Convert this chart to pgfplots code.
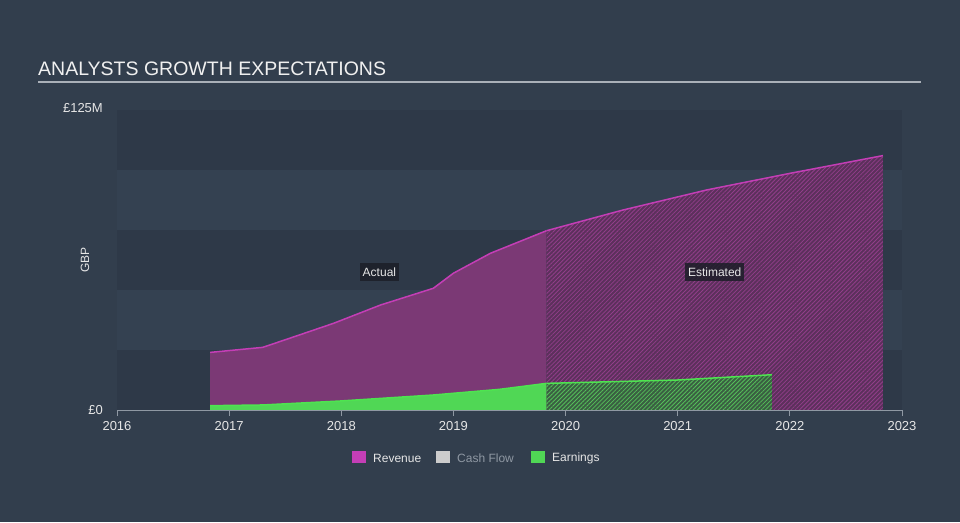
\documentclass[border=0pt]{standalone}
\usepackage{pgfplots}
\pgfplotsset{compat=1.18}
\usepackage{fontspec}
\setmainfont{Liberation Sans}
\usetikzlibrary{patterns.meta}
\definecolor{bg}{RGB}{50,62,77}
\definecolor{banddark}{RGB}{46,57,72}
\definecolor{bandlight}{RGB}{52,65,81}
\definecolor{titlecol}{RGB}{240,240,240}
\definecolor{rulecol}{RGB}{170,176,184}
\definecolor{axiscol}{RGB}{143,152,163}
\definecolor{tickcol}{RGB}{230,230,230}
\definecolor{revfill}{RGB}{123,57,117}
\definecolor{revest}{RGB}{92,48,92}
\definecolor{revhatch}{RGB}{145,62,138}
\definecolor{revline}{RGB}{196,62,182}
\definecolor{earnfill}{RGB}{80,215,85}
\definecolor{earnest}{RGB}{58,95,66}
\definecolor{earnhatch}{RGB}{85,190,90}
\definecolor{earnline}{RGB}{78,228,80}
\definecolor{cashcol}{RGB}{204,204,204}
\definecolor{boxcol}{RGB}{28,30,40}

\pgfplotstableread{
x y
2016.83 24.0
2017.30 26.1
2017.54 29.9
2017.93 36.1
2018.35 43.75
2018.82 50.7
2019.00 57.0
2019.33 65.3
2019.83 74.7
}\revact
\pgfplotstableread{
x y
2019.83 74.7
2020.51 83.3
2021.26 91.7
2022.00 98.6
2022.83 106.0
}\revestt
\pgfplotstableread{
x y
2016.83 1.8
2017.30 2.1
2017.99 3.75
2018.82 6.25
2019.41 8.6
2019.83 11.1
}\earnact
\pgfplotstableread{
x y
2019.83 11.1
2021.00 12.5
2021.84 14.7
}\earnestt

\begin{document}
\begin{tikzpicture}[x=1pt,y=1pt]
\fill[bg] (0,0) rectangle (960,522);
\node[anchor=base west, inner sep=0pt, text=titlecol, font=\fontsize{19.5}{22}\selectfont] at (38,446) {ANALYSTS GROWTH EXPECTATIONS};
\draw[rulecol, line width=1.5pt] (38,440) -- (921,440);
\begin{axis}[
  at={(117pt,112pt)}, anchor=south west,
  scale only axis, width=785pt, height=300pt,
  xmin=2016, xmax=2023, ymin=0, ymax=125,
  axis on top=true,
  axis x line*=bottom,
  axis y line=none,
  x axis line style={axiscol, line width=1pt, -},
  xtick={2016,2017,2018,2019,2020,2021,2022,2023},
  xticklabels={2016,2017,2018,2019,2020,2021,2022,2023},
  tick align=outside,
  major tick length=6pt,
  x tick style={axiscol, line width=1pt},
  xticklabel style={font=\fontsize{13}{14}\selectfont, text=tickcol, inner sep=0pt, yshift=-5pt},
  clip=false,
]
\fill[banddark] (axis cs:2016,0) rectangle (axis cs:2023,25);
\fill[bandlight] (axis cs:2016,25) rectangle (axis cs:2023,50);
\fill[banddark] (axis cs:2016,50) rectangle (axis cs:2023,75);
\fill[bandlight] (axis cs:2016,75) rectangle (axis cs:2023,100);
\fill[banddark] (axis cs:2016,100) rectangle (axis cs:2023,125);

\addplot[draw=none, fill=revfill] table[x=x,y=y] {\revact} \closedcycle;
\addplot[draw=none, fill=revest, postaction={pattern={Lines[angle=45,distance=3pt,line width=0.8pt]}, pattern color=revhatch}] table[x=x,y=y] {\revestt} \closedcycle;
\addplot[revline, line width=1.5pt] table[x=x,y=y] {\revact};
\addplot[revline, line width=1.5pt] table[x=x,y=y] {\revestt};

\addplot[draw=none, fill=earnfill] table[x=x,y=y] {\earnact} \closedcycle;
\addplot[draw=none, fill=earnest, postaction={pattern={Lines[angle=45,distance=3pt,line width=0.8pt]}, pattern color=earnhatch}] table[x=x,y=y] {\earnestt} \closedcycle;
\addplot[earnline, line width=1.5pt] table[x=x,y=y] {\earnact};
\addplot[earnline, line width=1.5pt] table[x=x,y=y] {\earnestt};

\node[fill=boxcol, fill opacity=0.85, text opacity=1, text=tickcol, font=\fontsize{12}{13}\selectfont, inner xsep=3pt, minimum height=18pt] at (axis cs:2018.34,57.3) {Actual};
\node[fill=boxcol, fill opacity=0.85, text opacity=1, text=tickcol, font=\fontsize{12}{13}\selectfont, inner xsep=3pt, minimum height=18pt] at (axis cs:2021.33,57.3) {Estimated};
\end{axis}
% y tick labels
\node[anchor=east, inner sep=0pt, text=tickcol, font=\fontsize{13}{14}\selectfont] at (103,112) {£0};
\node[anchor=east, inner sep=0pt, text=tickcol, font=\fontsize{13}{14}\selectfont] at (103,414) {£125M};
\node[rotate=90, inner sep=0pt, text=tickcol, font=\fontsize{12}{13}\selectfont] at (85,262) {GBP};
% legend
\fill[revline] (352,59) rectangle (366,71);
\node[anchor=west, inner sep=0pt, text=tickcol, font=\fontsize{12}{13}\selectfont] at (373,64) {Revenue};
\fill[cashcol] (436,59) rectangle (450,71);
\node[anchor=west, inner sep=0pt, text=axiscol, font=\fontsize{12}{13}\selectfont] at (457,64) {Cash Flow};
\fill[earnfill] (531,59) rectangle (545,71);
\node[anchor=west, inner sep=0pt, text=tickcol, font=\fontsize{12}{13}\selectfont] at (552,64) {Earnings};
\end{tikzpicture}
\end{document}
